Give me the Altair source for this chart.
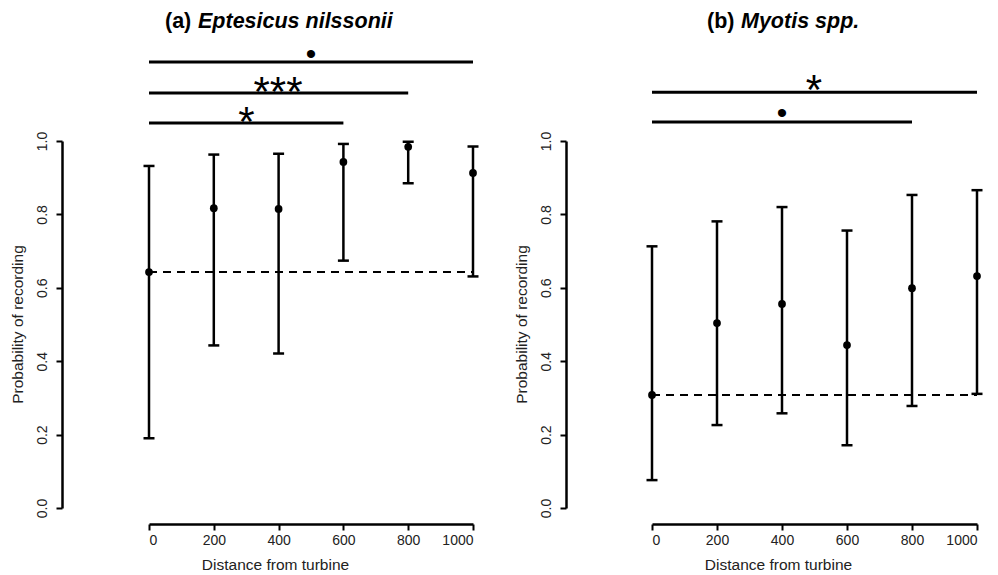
import altair as alt
import pandas as pd

FONT = "Liberation Sans"

distance = [0, 200, 400, 600, 800, 1000]

# (a) Eptesicus nilssonii
a_est = [0.643, 0.817, 0.815, 0.943, 0.984, 0.913]
a_lo = [0.190, 0.443, 0.421, 0.674, 0.885, 0.631]
a_hi = [0.932, 0.963, 0.965, 0.992, 0.998, 0.985]
a_ref = 0.643
a_sig_start = [0, 0, 0]
a_sig_end = [600, 800, 1000]
a_sig_y = [1.049, 1.131, 1.215]
a_sig_label = ["*", "***", "•"]
a_sig_label_x = [301, 398, 500]
a_sig_label_y = [1.014, 1.095, 1.210]

# (b) Myotis spp.
b_est = [0.308, 0.504, 0.556, 0.444, 0.599, 0.632]
b_lo = [0.076, 0.226, 0.258, 0.171, 0.278, 0.311]
b_hi = [0.713, 0.781, 0.820, 0.756, 0.853, 0.866]
b_ref = 0.308
b_sig_start = [0, 0]
b_sig_end = [1000, 800]
b_sig_y = [1.133, 1.052]
b_sig_label = ["*", "•"]
b_sig_label_x = [498, 400]
b_sig_label_y = [1.101, 1.049]

y_ticks = [0.0, 0.2, 0.4, 0.6, 0.8, 1.0]


def label_size(lab):
    return 30 if lab == "•" else 42


def panel(est, lo, hi, ref, s_start, s_end, s_y, s_lab, s_lx, s_ly,
          tag, species, tag_x, sp_x, y_offset, width):
    xs = alt.Scale(domain=[0, 1000], nice=False, zero=False)
    ys = alt.Scale(domain=[0, 1], nice=False, zero=False)
    xaxis = alt.Axis(values=distance, format="d", offset=16, tickSize=6,
                     tickWidth=2, tickColor="black", domainWidth=2.5,
                     domainColor="black", labelFontSize=14, labelPadding=3,
                     labelColor="#222", labelFont=FONT, grid=False,
                     title="Distance from turbine", titleFont=FONT,
                     titleFontSize=15.5, titleFontWeight="normal",
                     titleColor="#222", titleX=126, titleY=40,
                     titleBaseline="middle", titleAlign="center")
    yaxis = alt.Axis(values=y_ticks, format=".1f", offset=y_offset,
                     tickSize=6, tickWidth=2, tickColor="black",
                     domainWidth=2.5, domainColor="black", labelFontSize=14,
                     labelPadding=7, labelColor="#222", labelFont=FONT,
                     labelAngle=270, labelAlign="center",
                     labelBaseline="bottom", grid=False,
                     title="Probability of recording", titleFont=FONT,
                     titleFontSize=15.5, titleFontWeight="normal",
                     titleColor="#222", titleAngle=270, titleX=-45,
                     titleY=183, titleBaseline="middle", titleAlign="center")

    df = pd.DataFrame({"distance": distance, "est": est, "lo": lo, "hi": hi})
    base = alt.Chart(df)
    bars = base.mark_rule(color="black", strokeWidth=2.5).encode(
        x=alt.X("distance:Q", scale=xs, axis=xaxis),
        y=alt.Y("lo:Q", scale=ys, axis=yaxis),
        y2="hi:Q",
    )
    cap_lo = base.mark_tick(color="black", orient="horizontal", size=11,
                            thickness=2.5, opacity=1).encode(
        x=alt.X("distance:Q", scale=xs, axis=xaxis),
        y=alt.Y("lo:Q", scale=ys, axis=yaxis),
    )
    cap_hi = base.mark_tick(color="black", orient="horizontal", size=11,
                            thickness=2.5, opacity=1).encode(
        x=alt.X("distance:Q", scale=xs, axis=xaxis),
        y=alt.Y("hi:Q", scale=ys, axis=yaxis),
    )
    pts = base.mark_circle(color="black", size=60, opacity=1).encode(
        x=alt.X("distance:Q", scale=xs, axis=xaxis),
        y=alt.Y("est:Q", scale=ys, axis=yaxis),
    )
    ref_df = pd.DataFrame({"x0": [distance[0]], "x1": [distance[-1]], "y": [ref]})
    ref_line = alt.Chart(ref_df).mark_rule(color="black", strokeWidth=2,
                                           strokeDash=[8, 6]).encode(
        x=alt.X("x0:Q", scale=xs, axis=xaxis),
        x2="x1:Q",
        y=alt.Y("y:Q", scale=ys, axis=yaxis),
    )
    sig_df = pd.DataFrame({"start": s_start, "end": s_end, "y": s_y,
                           "lab": s_lab, "lx": s_lx, "ly": s_ly,
                           "fs": [label_size(l) for l in s_lab]})
    sig_rules = alt.Chart(sig_df).mark_rule(color="black", strokeWidth=3).encode(
        x=alt.X("start:Q", scale=xs, axis=xaxis),
        x2="end:Q",
        y=alt.Y("y:Q", scale=ys, axis=yaxis),
    )
    sig_text = alt.Chart(sig_df).mark_text(color="black", font=FONT,
                                           baseline="alphabetic",
                                           align="center").encode(
        x=alt.X("lx:Q", scale=xs, axis=xaxis),
        y=alt.Y("ly:Q", scale=ys, axis=yaxis),
        text="lab:N",
        size=alt.Size("fs:Q", scale=None, legend=None),
    )
    title_tag = alt.Chart(pd.DataFrame({"t": [tag]})).mark_text(
        font=FONT, fontSize=21.5, fontWeight="bold", align="left",
        baseline="middle", color="black").encode(
        x=alt.value(tag_x), y=alt.value(-119), text="t:N")
    title_sp = alt.Chart(pd.DataFrame({"t": [species]})).mark_text(
        font=FONT, fontSize=21.5, fontWeight="bold", fontStyle="italic",
        align="left", baseline="middle", color="black").encode(
        x=alt.value(sp_x), y=alt.value(-119), text="t:N")
    return alt.layer(ref_line, bars, cap_lo, cap_hi, pts, sig_rules,
                     sig_text, title_tag, title_sp).properties(
        width=width, height=367,
        view=alt.ViewConfig(stroke="transparent", strokeWidth=0))


left = panel(a_est, a_lo, a_hi, a_ref, a_sig_start, a_sig_end, a_sig_y,
             a_sig_label, a_sig_label_x, a_sig_label_y,
             "(a)", "Eptesicus nilssonii", 16, 49, 87, 324)
right = panel(b_est, b_lo, b_hi, b_ref, b_sig_start, b_sig_end, b_sig_y,
              b_sig_label, b_sig_label_x, b_sig_label_y,
              "(b)", "Myotis spp.", 55, 89, 86, 325)

chart = alt.hconcat(left, right, spacing=35).properties(
    padding={"left": 2, "top": 3, "right": 5, "bottom": 5},
    background="white",
).configure_view(stroke="transparent", strokeWidth=0).configure(font=FONT)

chart.save("out.html", embed_options={"renderer": "svg", "actions": False})
